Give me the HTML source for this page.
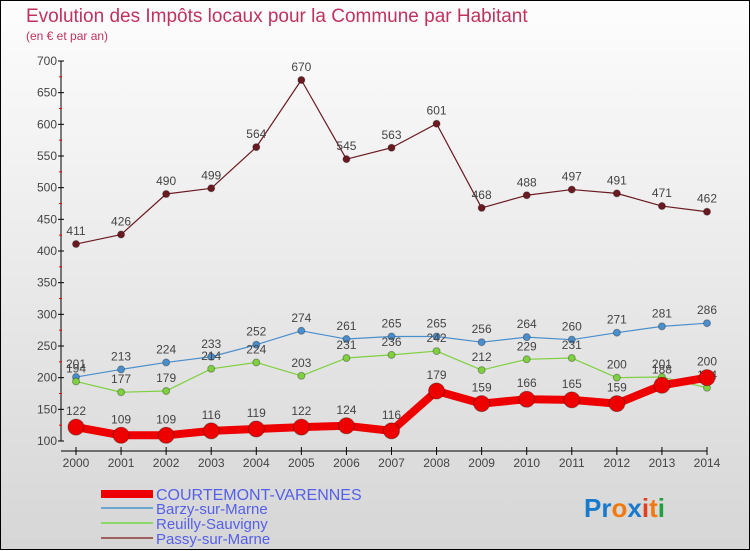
<!DOCTYPE html>
<html><head><meta charset="utf-8"><style>
body{margin:0;width:750px;height:550px;overflow:hidden;font-family:"Liberation Sans",sans-serif}
#wrap{position:relative;width:748px;height:548px;border:1px solid #000;background:linear-gradient(#fdfdfd,#d6d6d6)}
svg{position:absolute;left:0;top:0}
</style></head><body>
<div id="wrap">
<svg id="chart" width="750" height="550">
<text x="25" y="21" font-size="19" fill="#c0325e">Evolution des Impôts locaux pour la Commune par Habitant</text>
<text x="25" y="39" font-size="12" fill="#c0325e">(en € et par an)</text>
<g id="axes"></g><g id="series"></g>
<g>
<line x1="100" y1="493" x2="152" y2="493" stroke="#e00" stroke-width="8"/>
<text x="155" y="499" font-size="16" fill="#5560e8">COURTEMONT-VARENNES</text>
<line x1="100" y1="507" x2="152" y2="507" stroke="#6aa6d0" stroke-width="2"/>
<text x="155" y="513" font-size="15" fill="#5560e8">Barzy-sur-Marne</text>
<line x1="100" y1="522" x2="152" y2="522" stroke="#8ed86a" stroke-width="2"/>
<text x="155" y="528" font-size="15" fill="#5560e8">Reuilly-Sauvigny</text>
<line x1="100" y1="537" x2="152" y2="537" stroke="#a06060" stroke-width="2"/>
<text x="155" y="543" font-size="15" fill="#5560e8">Passy-sur-Marne</text>
</g>
<text x="583" y="516" font-size="26" font-weight="bold"><tspan fill="#1a7acc">Pr</tspan><tspan fill="#f07a10">o</tspan><tspan fill="#1a7acc">x</tspan><tspan fill="#e04020">i</tspan><tspan fill="#f07a10">t</tspan><tspan fill="#20a040">i</tspan></text>
</svg></div>
<script>
const years=[2000,2001,2002,2003,2004,2005,2006,2007,2008,2009,2010,2011,2012,2013,2014];
const yTicks=[100,150,200,250,300,350,400,450,500,550,600,650,700];
const passy=[411,426,490,499,564,670,545,563,601,468,488,497,491,471,462];
const barzy=[201,213,224,233,252,274,261,265,265,256,264,260,271,281,286];
const reuilly=[194,177,179,214,224,203,231,236,242,212,229,231,200,201,184];
const courtemont=[122,109,109,116,119,122,124,116,179,159,166,165,159,188,200];
const NS="http://www.w3.org/2000/svg";
const xs=i=>75+i*(631/14);
const ys=v=>440-(v-100)*380/600;
function mk(t,a,p){const e=document.createElementNS(NS,t);for(const k in a)e.setAttribute(k,a[k]);p.appendChild(e);return e;}
const ax=document.getElementById('axes');
const yl=mk('line',{x1:60,y1:60,x2:60,y2:440,stroke:'#000'},ax);


const xl=mk('line',{x1:60,y1:450,x2:706,y2:450,stroke:'#000'},ax);


yTicks.forEach((v,i)=>{const y=ys(v);
mk('line',{x1:57,y1:y,x2:63,y2:y,stroke:'#000'},ax);
if(i<yTicks.length-1)mk('line',{x1:58,y1:ys(v+25),x2:61,y2:ys(v+25),stroke:'#f00'},ax);
const t=mk('text',{x:56,y:y+4,'font-size':12,fill:'#444','text-anchor':'end'},ax);t.textContent=v;

});
years.forEach((yr,i)=>{const x=xs(i);
mk('line',{x1:x,y1:446,x2:x,y2:454,stroke:'#000'},ax);
const t=mk('text',{x:x,y:466,'font-size':12,fill:'#444','text-anchor':'middle'},ax);t.textContent=yr;

});
const sg=document.getElementById('series');
function draw(vals,color,w,r,name,off){
const g=mk('g',{},sg);


const p=mk('polyline',{points:vals.map((v,i)=>xs(i)+','+ys(v)).join(' '),fill:'none',stroke:color,'stroke-width':w,'stroke-linejoin':'round'},g);


vals.forEach((v,i)=>{const c=mk('circle',{cx:xs(i),cy:ys(v),r:r,fill:color,stroke:'rgba(0,0,0,0.3)','stroke-width':1},g);


const t=mk('text',{x:xs(i),y:ys(v)-off,'font-size':12,fill:'#444','text-anchor':'middle'},g);t.textContent=v;

});}
draw(passy,'#6b1a22',1.2,3.5,'passy',9);
draw(barzy,'#4a8fcc',1.2,3.5,'barzy',9);
draw(reuilly,'#7fd040',1.2,3.5,'reuilly',9);
draw(courtemont,'#ee0000',8,8,'courtemont',12);
</script>
</body></html>
